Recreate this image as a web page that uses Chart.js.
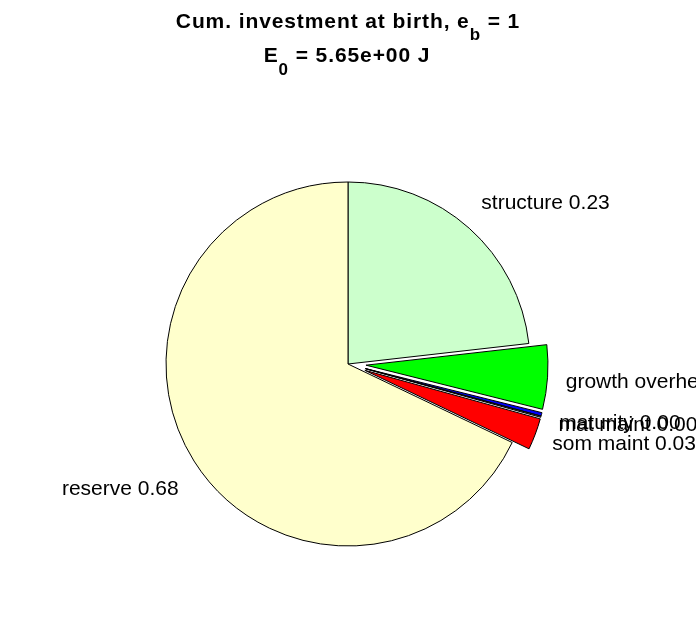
<!DOCTYPE html>
<html><head><meta charset="utf-8">
<script src="https://cdn.jsdelivr.net/npm/chart.js@4/dist/chart.umd.min.js"></script>
<style>html,body{margin:0;padding:0;background:#fff}canvas{display:block}</style>
</head><body>
<canvas id="c" width="696" height="618" style="width:696px;height:618px"></canvas>
<script>
// ---- data ----
const categories = ['structure', 'growth overhead', 'maturity', 'mat maint', 'som maint', 'reserve'];
const fractions = [0.232, 0.057, 0.003, 0.001, 0.028, 0.679];
const explodeFlags = [0, 1, 1, 1, 1, 0];
const titleLine1 = ['Cum. investment at birth, e', 'b', ' = 1'];
const titleLine2 = ['E', '0', ' = 5.65e+00 J'];

// ---- styles ----
const sliceColors = ['#CCFFCC', '#00FF00', '#0000FF', '#707070', '#FF0000', '#FFFFCC'];
const FONT = '"Liberation Sans", Arial, Helvetica, sans-serif';
const EXPLODE_PX = 18;

// MATLAB-style explode: translate whole slice along its bisector
const explodePlugin = {
  id: 'explode',
  afterUpdate(chart) {
    const meta = chart.getDatasetMeta(0);
    meta.data.forEach((arc, i) => {
      if (arc._wrapped) return;
      const orig = arc.draw;
      arc.draw = function (ctx) {
        const d = explodeFlags[i] * EXPLODE_PX;
        if (!d) return orig.call(this, ctx);
        const mid = (this.startAngle + this.endAngle) / 2;
        ctx.save();
        ctx.translate(Math.cos(mid) * d, Math.sin(mid) * d);
        orig.call(this, ctx);
        ctx.restore();
      };
      arc._wrapped = true;
    });
  }
};

const titlePlugin = {
  id: 'richTitle',
  afterDraw(chart) {
    const ctx = chart.ctx;
    function line(parts, cx, base, mainSize, subSize, subDy) {
      const segs = [
        {t: parts[0], s: mainSize, dy: 0},
        {t: parts[1], s: subSize, dy: subDy},
        {t: parts[2], s: mainSize, dy: 0}
      ];
      let total = 0;
      segs.forEach(sg => { ctx.font = `bold ${sg.s}px ${FONT}`; sg.w = ctx.measureText(sg.t).width; total += sg.w; });
      let x = cx - total / 2;
      segs.forEach(sg => { ctx.font = `bold ${sg.s}px ${FONT}`; ctx.fillText(sg.t, x, base + sg.dy); x += sg.w; });
    }
    ctx.save();
    ctx.fillStyle = '#000';
    ctx.textAlign = 'left';
    ctx.textBaseline = 'alphabetic';
    ctx.letterSpacing = '0.9px';
    line(titleLine1, 348, 27.5, 21, 17, 12);
    line(titleLine2, 347, 62, 21, 17, 12.5);
    ctx.restore();
  }
};

const labelPlugin = {
  id: 'pieLabels',
  afterDatasetsDraw(chart) {
    const ctx = chart.ctx;
    const meta = chart.getDatasetMeta(0);
    ctx.save();
    ctx.font = `21px ${FONT}`;
    ctx.fillStyle = '#000';
    ctx.textBaseline = 'middle';
    meta.data.forEach((arc, i) => {
      const p = arc.getProps(['x', 'y', 'startAngle', 'endAngle', 'outerRadius'], true);
      const mid = (p.startAngle + p.endAngle) / 2;
      const r = p.outerRadius * 1.1 + explodeFlags[i] * EXPLODE_PX;
      const c = Math.cos(mid), s = Math.sin(mid);
      const x = p.x + c * r;
      let y = p.y + s * r;
      y += (s < -0.3) ? -11 : (c < 0 ? 18 : 4);
      ctx.textAlign = c >= 0 ? 'left' : 'right';
      ctx.fillText(categories[i] + ' ' + fractions[i].toFixed(2), x, y);
    });
    ctx.restore();
  }
};

new Chart(document.getElementById('c'), {
  type: 'pie',
  data: {
    labels: categories,
    datasets: [{
      data: fractions,
      backgroundColor: sliceColors,
      borderColor: '#000',
      borderWidth: 1
    }]
  },
  options: {
    responsive: false,
    animation: false,
    radius: 182,
    layout: {padding: {top: 150, bottom: 40, left: 100, right: 100}},
    plugins: {legend: {display: false}, tooltip: {enabled: false}, title: {display: false}}
  },
  plugins: [explodePlugin, labelPlugin, titlePlugin]
});
</script>
</body></html>
